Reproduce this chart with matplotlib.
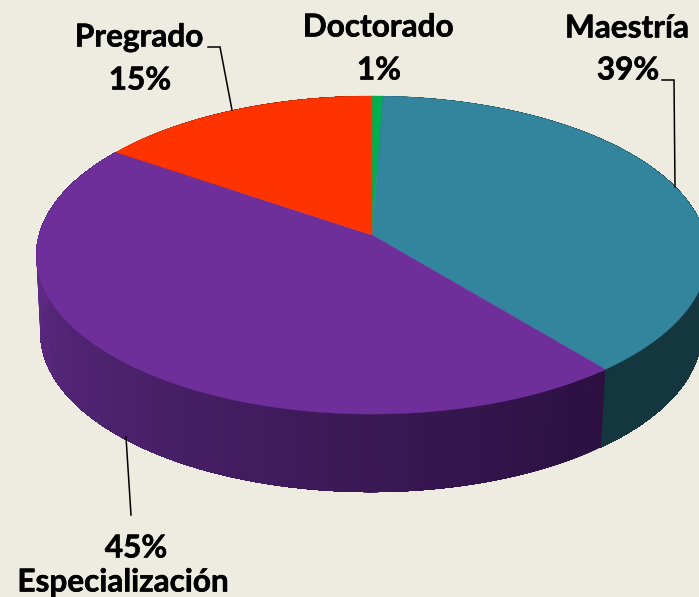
import matplotlib
matplotlib.use("Agg")
import matplotlib.pyplot as plt
import matplotlib.patheffects as pe
import numpy as np

# shares measured from the slice edges, the labels are the rounded ones shown
categories = ['Doctorado', 'Maestría', 'Especialización', 'Pregrado']
shares = [0.6, 38.5, 45.5, 15.4]
pct_labels = ['1%', '39%', '45%', '15%']

top_colors = ['#00B050', '#33849D', '#6F2F9B', '#FF3300']
wall_stops = [['#00602C', '#00602C'], ['#13363F', '#13363F'],
              ['#2B1040', '#5C2A82'], ['#8C1C00', '#8C1C00']]

BG = '#EEEBE0'
FONT = 'Lato'
SIZE = 22.7


def project(theta, cx, cy, a, b, k):
    # circle seen in perspective, theta clockwise from the top
    X = np.sin(theta)
    Y = np.cos(theta)
    d = 1 + k * Y
    return cx + a * X / d, cy - b * Y / d


def top_pt(theta):
    return project(theta, 372, 235, 333, 156.5, 0.126)


def bottom_pt(theta):
    return project(theta, 371, 313, 328, 156.5, 0.126)


fig = plt.figure(figsize=(6.99, 5.97), dpi=100, facecolor=BG)
ax = fig.add_axes([0, 0, 1, 1])
ax.set_xlim(0, 699)
ax.set_ylim(597, 0)
ax.axis('off')

edges = np.radians(np.cumsum([0] + shares) * 3.6)

# side wall first; each piece runs to the slice end and the next paints over it, no seams
for i in range(len(shares)):
    n = max(2, int((edges[i + 1] - edges[i]) * 60))
    th = np.linspace(edges[i], edges[i + 1], n + 1)
    c0 = np.array(matplotlib.colors.to_rgb(wall_stops[i][0]))
    c1 = np.array(matplotlib.colors.to_rgb(wall_stops[i][1]))
    for j in range(n):
        rest = th[j:]
        xt, yt = top_pt(rest)
        xb, yb = bottom_pt(rest)
        f = min(1, j / max(n - 1, 1) / 0.76)
        col = c0 + (c1 - c0) * f
        ax.fill(np.r_[xt, xb[::-1]], np.r_[yt, yb[::-1]], color=col, lw=0, zorder=1)

# top face
for i in range(len(shares)):
    th = np.linspace(edges[i], edges[i + 1], 200)
    xt, yt = top_pt(th)
    ax.fill(np.r_[372, xt], np.r_[235, yt], color=top_colors[i], lw=0.3, zorder=2)

# leader lines
ax.plot([662, 674, 675], [80, 80, 187], color='black', lw=1.1, zorder=3, solid_joinstyle='miter')
ax.plot([208, 220, 232], [47, 47, 110], color='black', lw=1.1, zorder=3, solid_joinstyle='miter')
ax.plot([126, 131], [437, 515], color='black', lw=1.1, zorder=3)

txt = dict(family=FONT, weight='bold', fontsize=SIZE, color='black', ha='center', va='center',
           path_effects=[pe.withStroke(linewidth=0.4, foreground='black')])
ax.text(378, 27, categories[0], **txt)
ax.text(379, 70, pct_labels[0], **txt)
ax.text(627, 28, categories[1], **txt)
ax.text(628, 70, pct_labels[1], **txt)
ax.text(136, 548, pct_labels[2], **txt)
ax.text(123, 582, categories[2], **txt)
ax.text(139, 37, categories[3], **txt)
ax.text(140, 80, pct_labels[3], **txt)

fig.savefig('out.png', dpi=100, facecolor=BG)
